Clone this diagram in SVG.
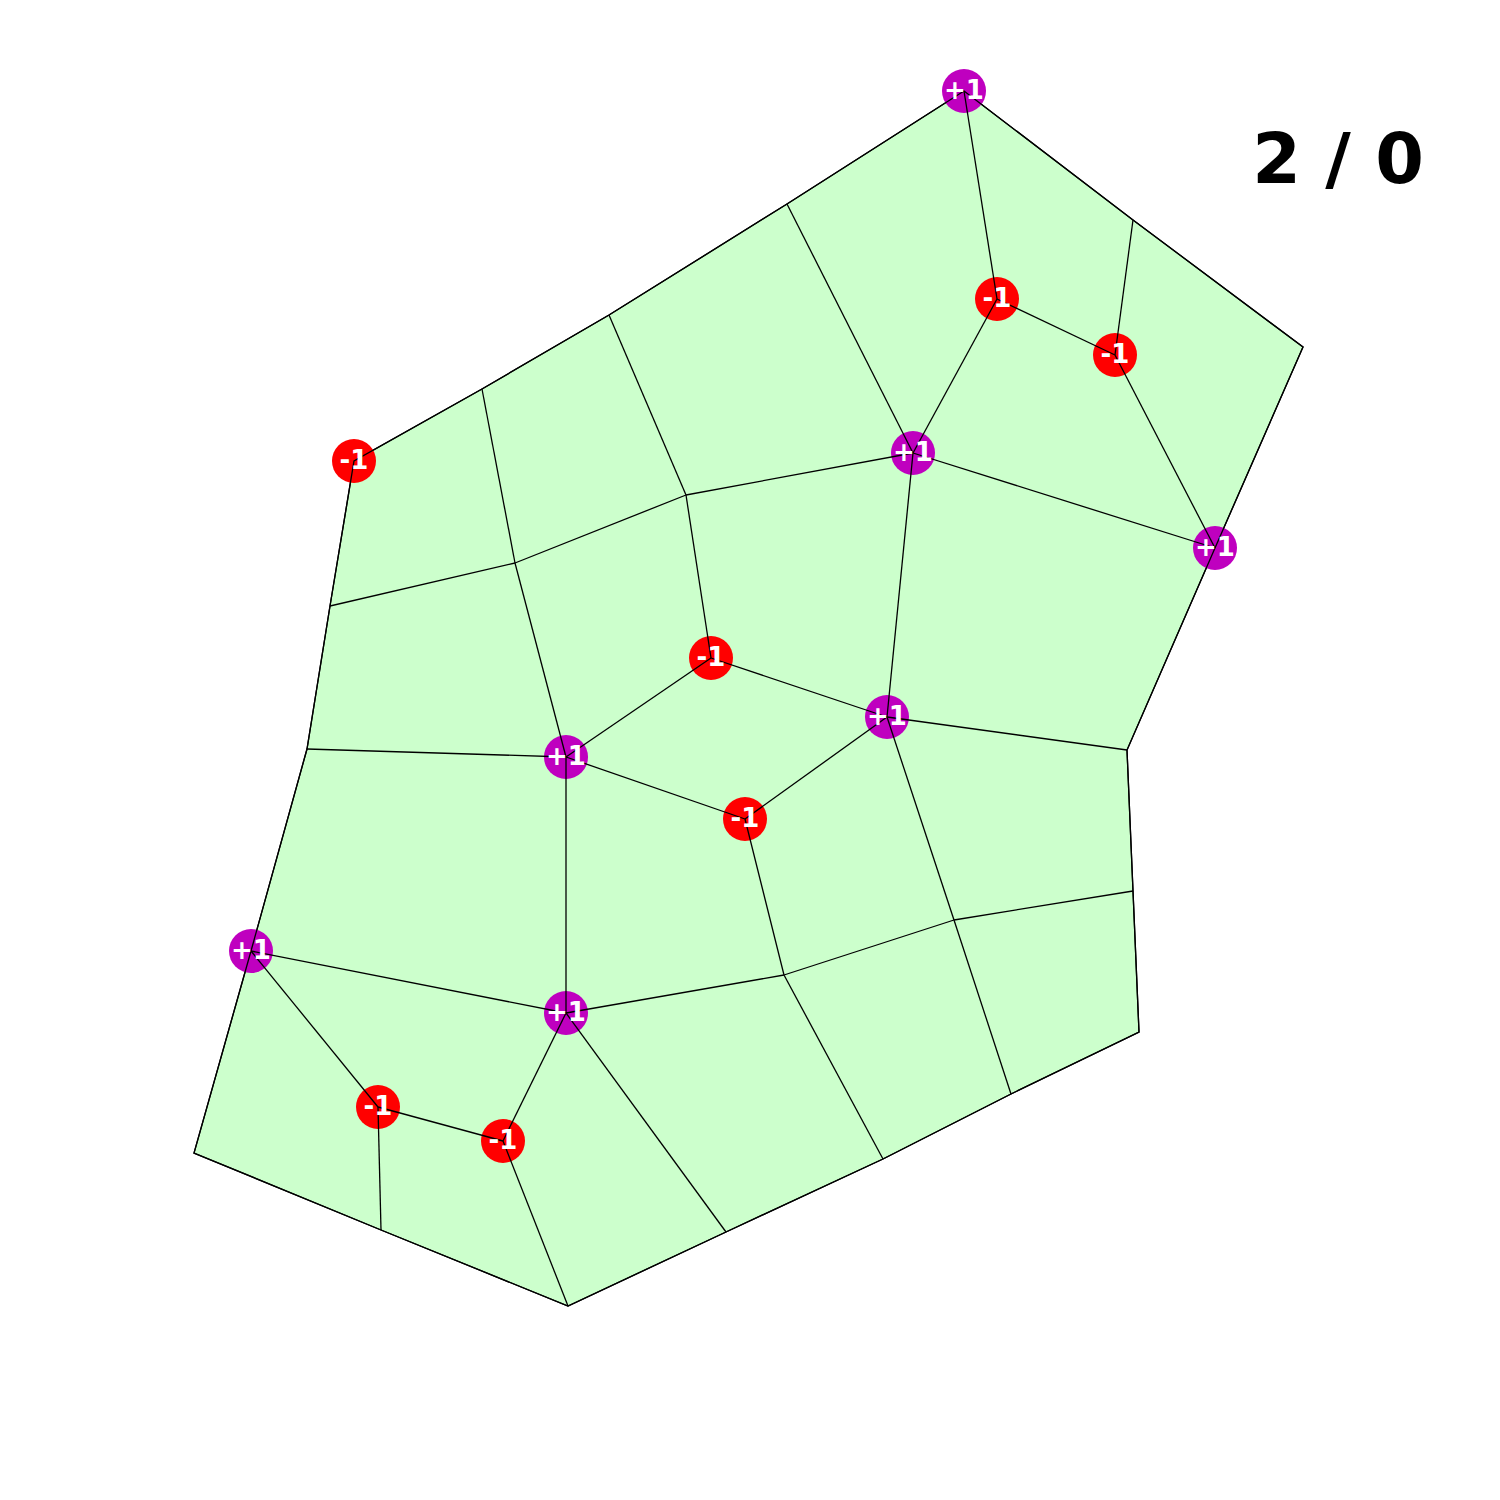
<svg xmlns="http://www.w3.org/2000/svg" width="1500" height="1500" viewBox="0 0 1500 1500">
<style>
.e{stroke:#000;stroke-width:1.3;fill:none}
.p{fill:#bf00bf}
.m{fill:#ff0000}
.t{font-family:"DejaVu Sans",sans-serif;font-weight:bold;font-size:26px;fill:#fff;text-anchor:middle;dominant-baseline:central}
</style>
<rect width="1500" height="1500" fill="#fff"/>
<polygon id="region" points="964,91 1133,220 1303,347 1215,548 1127,750 1133,891 1139,1032 1011,1094 883,1159 726,1232 568,1306 381,1230 194,1153 251,951 307,749 330,606 354,461 482,389 609,315 787,204" fill="#ccffcc" stroke="#000" stroke-width="1.3"/>
<g id="node-circles">
<circle class="p" cx="964" cy="91" r="22"/>
<circle class="m" cx="997" cy="299" r="22"/>
<circle class="m" cx="1115" cy="355" r="22"/>
<circle class="p" cx="913" cy="453" r="22"/>
<circle class="m" cx="354" cy="461" r="22"/>
<circle class="p" cx="1215" cy="548" r="22"/>
<circle class="m" cx="711" cy="658" r="22"/>
<circle class="p" cx="887" cy="717" r="22"/>
<circle class="p" cx="566" cy="757" r="22"/>
<circle class="m" cx="745" cy="819" r="22"/>
<circle class="p" cx="251" cy="951" r="22"/>
<circle class="p" cx="566" cy="1013" r="22"/>
<circle class="m" cx="378" cy="1107" r="22"/>
<circle class="m" cx="503" cy="1141" r="22"/>
</g>
<g id="connectors" class="e">
<line x1="964" y1="91" x2="997" y2="299"/>
<line x1="1133" y1="220" x2="1115" y2="355"/>
<line x1="997" y1="299" x2="1115" y2="355"/>
<line x1="997" y1="299" x2="913" y2="453"/>
<line x1="787" y1="204" x2="913" y2="453"/>
<line x1="1115" y1="355" x2="1215" y2="548"/>
<line x1="913" y1="453" x2="1215" y2="548"/>
<line x1="913" y1="453" x2="686" y2="495"/>
<line x1="913" y1="453" x2="887" y2="717"/>
<line x1="609" y1="315" x2="686" y2="495"/>
<line x1="686" y1="495" x2="515" y2="563"/>
<line x1="686" y1="495" x2="711" y2="658"/>
<line x1="482" y1="389" x2="515" y2="563"/>
<line x1="515" y1="563" x2="330" y2="606"/>
<line x1="515" y1="563" x2="566" y2="757"/>
<line x1="711" y1="658" x2="566" y2="757"/>
<line x1="711" y1="658" x2="887" y2="717"/>
<line x1="887" y1="717" x2="1127" y2="750"/>
<line x1="887" y1="717" x2="745" y2="819"/>
<line x1="887" y1="717" x2="954" y2="920"/>
<line x1="566" y1="757" x2="307" y2="749"/>
<line x1="566" y1="757" x2="745" y2="819"/>
<line x1="566" y1="757" x2="566" y2="1013"/>
<line x1="745" y1="819" x2="784" y2="975"/>
<line x1="954" y1="920" x2="1133" y2="891"/>
<line x1="954" y1="920" x2="784" y2="975"/>
<line x1="954" y1="920" x2="1011" y2="1094"/>
<line x1="784" y1="975" x2="566" y2="1013"/>
<line x1="784" y1="975" x2="883" y2="1159"/>
<line x1="566" y1="1013" x2="251" y2="951"/>
<line x1="566" y1="1013" x2="726" y2="1232"/>
<line x1="566" y1="1013" x2="503" y2="1141"/>
<line x1="251" y1="951" x2="378" y2="1107"/>
<line x1="378" y1="1107" x2="503" y2="1141"/>
<line x1="378" y1="1107" x2="381" y2="1230"/>
<line x1="503" y1="1141" x2="568" y2="1306"/>
<polygon points="964,91 1133,220 1303,347 1215,548 1127,750 1133,891 1139,1032 1011,1094 883,1159 726,1232 568,1306 381,1230 194,1153 251,951 307,749 330,606 354,461 482,389 609,315 787,204"/>
</g>
<g id="labels" class="t">
<text x="964" y="90">+1</text>
<text x="997" y="298">-1</text>
<text x="1115" y="354">-1</text>
<text x="913" y="452">+1</text>
<text x="354" y="460">-1</text>
<text x="1215" y="547">+1</text>
<text x="711" y="657">-1</text>
<text x="887" y="716">+1</text>
<text x="566" y="756">+1</text>
<text x="745" y="818">-1</text>
<text x="251" y="950">+1</text>
<text x="566" y="1012">+1</text>
<text x="378" y="1106">-1</text>
<text x="503" y="1140">-1</text>
</g>
<text id="title" x="1338" y="183" font-family="'DejaVu Sans',sans-serif" font-weight="bold" font-size="70" text-anchor="middle" fill="#000">2 / 0</text>
</svg>
